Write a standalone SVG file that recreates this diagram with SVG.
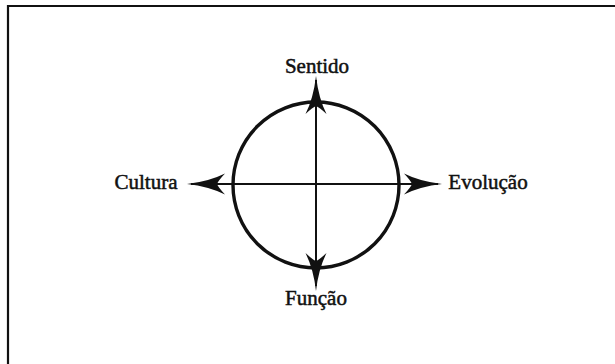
<svg xmlns="http://www.w3.org/2000/svg" xmlns:xlink="http://www.w3.org/1999/xlink" width="615" height="364" viewBox="0 0 615 364">
<style>
.lbl{font-family:"Liberation Serif","Times New Roman",serif;font-size:21px;fill:#111;stroke:#111;stroke-width:0.5px;text-anchor:middle}
.axis{stroke:#111;stroke-width:2;fill:none}
.frame{stroke:#111;stroke-width:2.2;fill:none}
.head{fill:#111}
</style>
<defs>
<path id="ah" d="M0,0 Q-22,-2.5 -38,-10.5 Q-31,-3 -30,0 Q-31,3 -38,10.5 Q-22,2.5 0,0 Z"/>
</defs>
<rect width="615" height="364" fill="#fff"/>
<path class="frame" d="M8,364 L8,6 L615,6"/>
<g id="circle">
<circle cx="316" cy="185" r="83" fill="none" stroke="#111" stroke-width="3.4"/>
</g>
<g id="connectors">
<line class="axis" x1="316" y1="80" x2="316" y2="286"/>
<line class="axis" x1="191" y1="184" x2="438" y2="184"/>
<use href="#ah" class="head" transform="translate(316,76) rotate(-90)"/>
<use href="#ah" class="head" transform="translate(316,291) rotate(90)"/>
<use href="#ah" class="head" transform="translate(187,184) rotate(180)"/>
<use href="#ah" class="head" transform="translate(442,184)"/>
</g>
<g id="sentido"><text class="lbl" x="317" y="73">Sentido</text></g>
<g id="cultura"><text class="lbl" x="146" y="189">Cultura</text></g>
<g id="evolucao"><text class="lbl" x="488" y="189">Evolução</text></g>
<g id="funcao"><text class="lbl" x="316" y="305">Função</text></g>
</svg>
